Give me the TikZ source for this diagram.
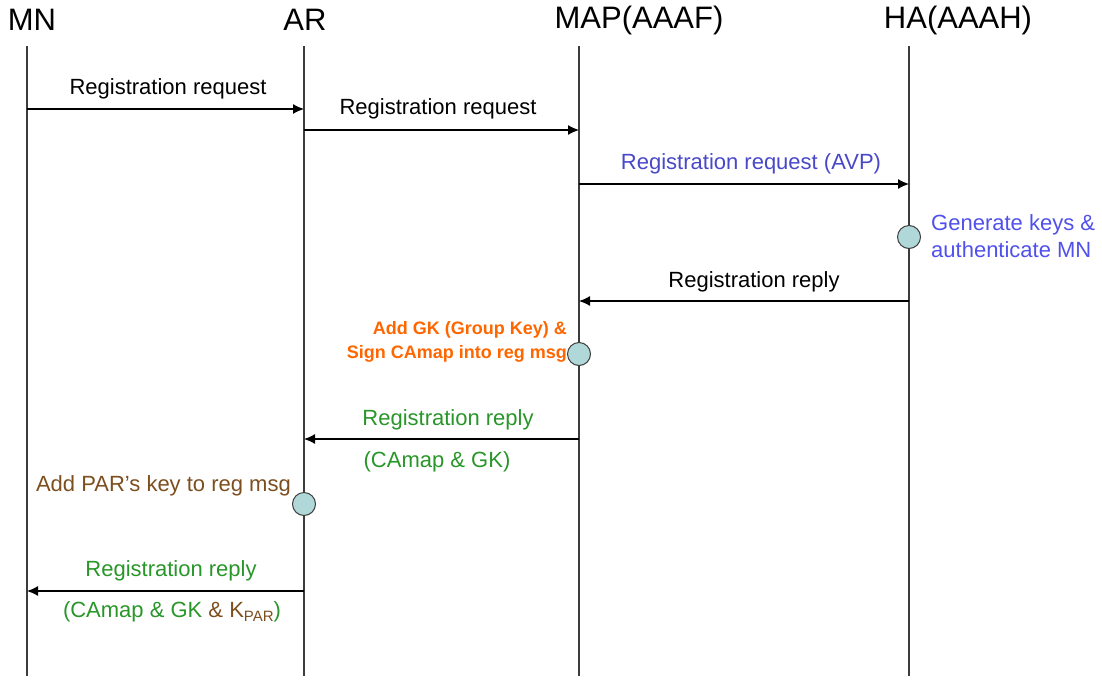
\documentclass[tikz,border=0pt]{standalone}
\usepackage{fontspec}
\setmainfont{Liberation Sans}
\usetikzlibrary{arrows.meta}
\definecolor{msgblue}{RGB}{72,72,200}
\definecolor{genblue}{RGB}{80,80,235}
\definecolor{msggreen}{RGB}{40,150,40}
\definecolor{actorange}{RGB}{255,102,0}
\definecolor{actbrown}{RGB}{125,78,30}
\definecolor{dotfill}{RGB}{176,216,216}
\definecolor{lifegray}{RGB}{60,60,60}
\begin{document}
\begin{tikzpicture}[x=1pt,y=-1pt,
  actor/.style={font=\fontsize{31}{33}\selectfont, inner sep=0pt},
  lifeline/.style={draw=lifegray, line width=1.3pt},
  msg/.style={draw=black, line width=1.2pt, -{Latex[length=11pt,width=10pt]}},
  lbl/.style={font=\fontsize{22}{26}\selectfont, inner sep=0pt},
  note/.style={font=\fontsize{22}{27}\selectfont, inner sep=0pt, align=left},
  boldnote/.style={font=\fontsize{18}{24}\selectfont\bfseries, inner sep=0pt, align=right},
  dot/.style={circle, draw=lifegray, line width=1pt, fill=dotfill, minimum size=23pt, inner sep=0pt}]
\useasboundingbox (0,0) rectangle (1102,681);

% participants
\node[actor] (mn)  at (32,20)  {MN};
\node[actor] (ar)  at (305,20) {AR};
\node[actor] (map) at (639,20) {MAP(AAAF)};
\node[actor] (ha)  at (958,20) {HA(AAAH)};

% lifelines
\coordinate (mnT) at (27,46);   \coordinate (mnB) at (27,676);
\coordinate (arT) at (304,46);  \coordinate (arB) at (304,676);
\coordinate (mapT) at (579,46); \coordinate (mapB) at (579,676);
\coordinate (haT) at (909,46);  \coordinate (haB) at (909,676);
\path[lifeline] (mnT) -- (mnB);
\path[lifeline] (arT) -- (arB);
\path[lifeline] (mapT) -- (mapB);
\path[lifeline] (haT) -- (haB);

% message end points
\coordinate (m1a) at (27,109);  \coordinate (m1b) at (304,109);
\coordinate (m2a) at (304,130); \coordinate (m2b) at (579,130);
\coordinate (m3a) at (579,184); \coordinate (m3b) at (909,184);
\coordinate (m4a) at (909,301); \coordinate (m4b) at (579,301);
\coordinate (m5a) at (579,439); \coordinate (m5b) at (304,439);
\coordinate (m6a) at (304,591); \coordinate (m6b) at (27,591);

% messages
\draw[msg] (m1a) -- (m1b);
\node[lbl] (l1) at (168,89) {Registration request};
\draw[msg] (m2a) -- (m2b);
\node[lbl] (l2) at (438,109) {Registration request};
\draw[msg] (m3a) -- (m3b);
\node[lbl, text=msgblue] (l3) at (751,164) {Registration request (AVP)};
\draw[msg] (m4a) -- (m4b);
\node[lbl] (l4) at (754,282) {Registration reply};
\draw[msg] (m5a) -- (m5b);
\node[lbl, text=msggreen] (l5) at (448,420) {Registration reply};
\node[lbl, text=msggreen] (l5b) at (437,462) {(CAmap \& GK)};
\draw[msg] (m6a) -- (m6b);
\node[lbl, text=msggreen] (l6) at (171,571) {Registration reply};
\node[lbl, text=msggreen] (l6b) at (172,612) {(CAmap \& GK \textcolor{actbrown}{\& K\raisebox{-4pt}{\fontsize{15}{16}\selectfont PAR}})};

% processing steps
\node[dot] (d1) at (909,237) {};
\node[note, text=genblue, anchor=west] (n1) at (931,236) {Generate keys \&\\authenticate MN};
\node[dot] (d2) at (579,354) {};
\node[boldnote, text=actorange, anchor=east] (n2) at (567,342) {Add GK (Group Key) \&\\Sign CAmap into reg msg};
\node[dot] (d3) at (304,504) {};
\node[lbl, text=actbrown, anchor=east] (n3) at (291,486) {Add PAR's key to reg msg};
\end{tikzpicture}
\end{document}
